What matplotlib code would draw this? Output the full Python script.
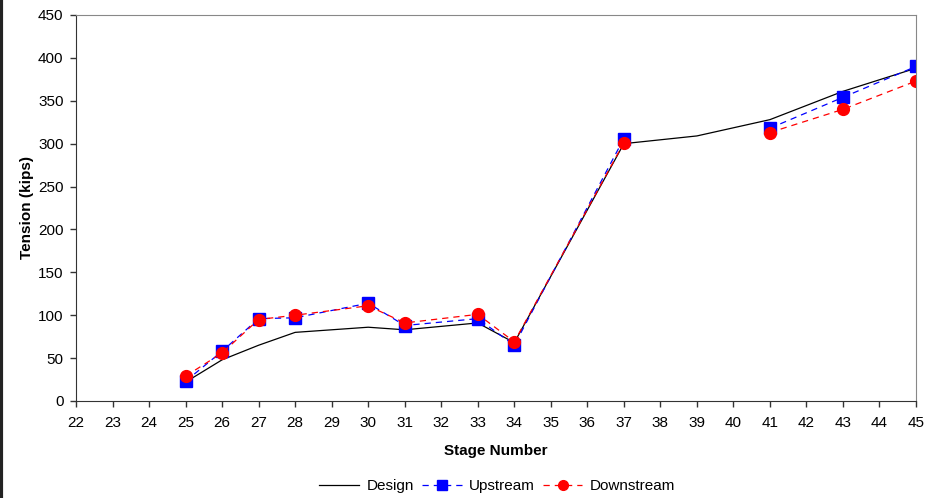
import matplotlib.pyplot as plt
import matplotlib.lines as mlines
import numpy as np

plt.rcParams['font.family'] = ['Liberation Sans', 'DejaVu Sans']

# tension per stage, NaN where no measurement was taken
stages = [25, 26, 27, 28, 30, 31, 33, 34, 37, 39, 41, 43, 45]
design = [22, 48, 65, 80, 86, 83, 91, 68, 300, 309, 328, 361, 388]
upstream = [23, 58, 96, 97, 114, 88, 96, 65, 306, np.nan, 318, 354, 390]
downstream = [29, 56, 95, 100, 111, 91, 101, 69, 301, np.nan, 313, 340, 373]
xticks = list(range(22, 46))
yticks = list(range(0, 451, 50))

fig = plt.figure(figsize=(9.35, 4.98), dpi=100)
ax = fig.add_axes([0.0813, 0.1948, 0.8984, 0.7751])

ax.plot(stages, design, color='black', lw=0.9, label='Design')
ax.plot(stages, upstream, color='blue', lw=0.9, ls=(0, (5, 4)),
        marker='s', ms=8.5, label='Upstream')
ax.plot(stages, downstream, color='red', lw=0.9, ls=(0, (5, 4)),
        marker='o', ms=8.5, label='Downstream')

ax.set_xlim(22, 45)
ax.set_ylim(0, 450)
ax.set_xticks(xticks)
ax.set_yticks(yticks)
ax.tick_params(labelsize=11, length=4, width=1, color='#333333')
ax.tick_params(axis='x', pad=7)
ax.tick_params(axis='y', pad=5)

ax.spines['left'].set_color('#333333')
ax.spines['bottom'].set_color('#333333')
ax.spines['top'].set_color('#888888')
ax.spines['right'].set_color('#888888')

ax.set_xlabel('Stage Number', fontsize=11, fontweight='bold', labelpad=10)
ax.set_ylabel('Tension (kips)', fontsize=11, fontweight='bold', labelpad=3)

handles = [
    mlines.Line2D([], [], color='black', lw=0.9),
    mlines.Line2D([], [], color='blue', lw=0.9, ls=(0, (5, 4)), marker='s', ms=7),
    mlines.Line2D([], [], color='red', lw=0.9, ls=(0, (5, 4)), marker='o', ms=7),
]
fig.legend(handles, ['Design', 'Upstream', 'Downstream'], loc='center',
           bbox_to_anchor=(0.532, 0.024), ncol=3, frameon=False, fontsize=11,
           handlelength=2.6, handletextpad=0.5, columnspacing=0.5)

# dark edge down the left side of the figure
fig.add_artist(mlines.Line2D([0.001, 0.001], [0, 1], color='#222222', lw=3,
                             transform=fig.transFigure))

fig.savefig('out.png', dpi=100)
